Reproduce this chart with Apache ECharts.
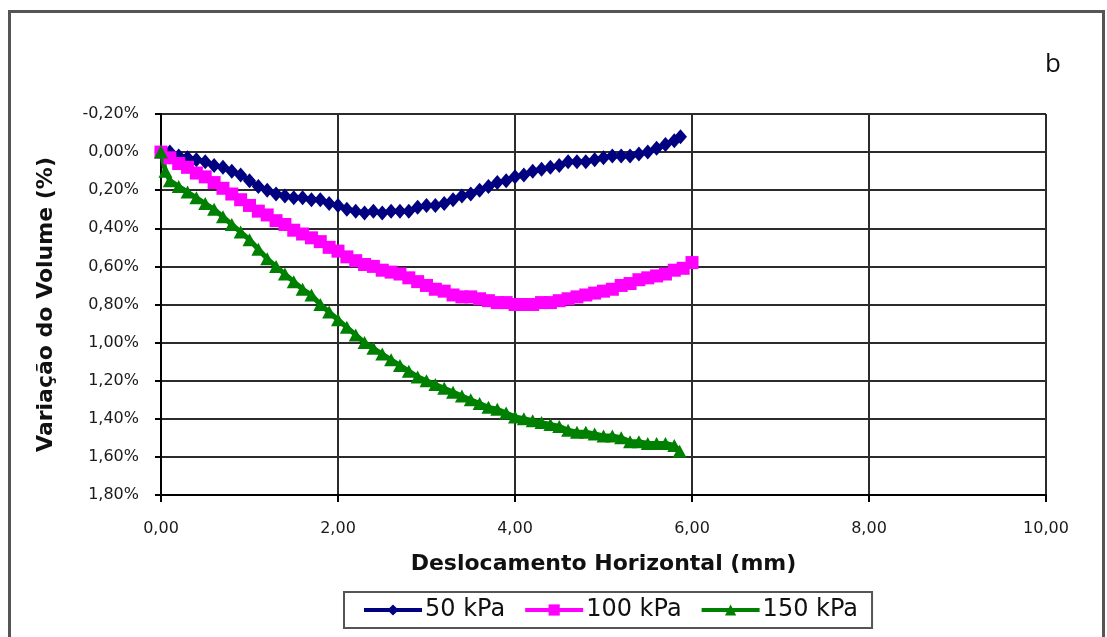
<!DOCTYPE html>
<html>
<head>
<meta charset="utf-8">
<script src="https://cdn.jsdelivr.net/npm/echarts@6/dist/echarts.min.js"></script>
<style>
html,body{margin:0;padding:0;background:#fff;}
#chart{width:1107px;height:637px;}
</style>
</head>
<body>
<div id="chart"></div>
<script>
// ---- Data (horizontal displacement in mm, volume change in %) ----
const x50 = [0.0,0.1,0.2,0.3,0.4,0.5,0.6,0.7,0.8,0.9,1.0,1.1,1.2,1.3,1.4,1.5,1.6,1.7,1.8,1.9,2.0,2.1,2.2,2.3,2.4,2.5,2.6,2.7,2.8,2.9,3.0,3.1,3.2,3.3,3.4,3.5,3.6,3.7,3.8,3.9,4.0,4.1,4.2,4.3,4.4,4.5,4.6,4.7,4.8,4.9,5.0,5.1,5.2,5.3,5.4,5.5,5.6,5.7,5.8,5.87];
const y50 = [0.00,0.00,0.02,0.03,0.04,0.05,0.07,0.08,0.10,0.12,0.15,0.18,0.20,0.22,0.23,0.24,0.24,0.25,0.25,0.27,0.28,0.30,0.31,0.32,0.31,0.32,0.31,0.31,0.31,0.29,0.28,0.28,0.27,0.25,0.23,0.22,0.20,0.18,0.16,0.15,0.13,0.12,0.10,0.09,0.08,0.07,0.05,0.05,0.05,0.04,0.03,0.02,0.02,0.02,0.01,0.00,-0.02,-0.04,-0.06,-0.08];

const x100 = [0.0,0.1,0.2,0.3,0.4,0.5,0.6,0.7,0.8,0.9,1.0,1.1,1.2,1.3,1.4,1.5,1.6,1.7,1.8,1.9,2.0,2.1,2.2,2.3,2.4,2.5,2.6,2.7,2.8,2.9,3.0,3.1,3.2,3.3,3.4,3.5,3.6,3.7,3.8,3.9,4.0,4.1,4.2,4.3,4.4,4.5,4.6,4.7,4.8,4.9,5.0,5.1,5.2,5.3,5.4,5.5,5.6,5.7,5.8,5.9,6.0];
const y100 = [0.00,0.03,0.06,0.08,0.11,0.13,0.16,0.19,0.22,0.25,0.28,0.31,0.33,0.36,0.38,0.41,0.43,0.45,0.47,0.50,0.52,0.55,0.57,0.59,0.60,0.62,0.63,0.64,0.66,0.68,0.70,0.72,0.73,0.75,0.76,0.76,0.77,0.78,0.79,0.79,0.80,0.80,0.80,0.79,0.79,0.78,0.77,0.76,0.75,0.74,0.73,0.72,0.70,0.69,0.67,0.66,0.65,0.64,0.62,0.61,0.58];

const x150 = [0.0,0.05,0.1,0.2,0.3,0.4,0.5,0.6,0.7,0.8,0.9,1.0,1.1,1.2,1.3,1.4,1.5,1.6,1.7,1.8,1.9,2.0,2.1,2.2,2.3,2.4,2.5,2.6,2.7,2.8,2.9,3.0,3.1,3.2,3.3,3.4,3.5,3.6,3.7,3.8,3.9,4.0,4.1,4.2,4.3,4.4,4.5,4.6,4.7,4.8,4.9,5.0,5.1,5.2,5.3,5.4,5.5,5.6,5.7,5.8,5.86];
const y150 = [0.00,0.10,0.15,0.18,0.21,0.24,0.27,0.30,0.34,0.38,0.42,0.46,0.51,0.56,0.60,0.64,0.68,0.72,0.75,0.80,0.84,0.88,0.92,0.96,1.00,1.03,1.06,1.09,1.12,1.15,1.18,1.20,1.22,1.24,1.26,1.28,1.30,1.32,1.34,1.35,1.37,1.39,1.40,1.41,1.42,1.43,1.44,1.46,1.47,1.47,1.48,1.49,1.49,1.50,1.52,1.52,1.53,1.53,1.53,1.54,1.57];

const seriesNames = ['50 kPa', '100 kPa', '150 kPa'];
const xTitle = 'Deslocamento Horizontal (mm)';
const yTitle = 'Variação do Volume (%)';
const panelLabel = 'b';

function pairs(xs, ys) { return xs.map((x, i) => [x, ys[i]]); }

const chart = echarts.init(document.getElementById('chart'), null, { renderer: 'canvas' });

const tickFont = { fontFamily: 'DejaVu Sans', fontSize: 16, color: '#1a1a1a' };
const gridLine = { show: true, lineStyle: { color: '#2b2b2b', width: 2 } };

chart.setOption({
  animation: false,
  backgroundColor: '#ffffff',
  grid: { left: 161, right: 61, top: 114, bottom: 142, containLabel: false },
  xAxis: {
    type: 'value', min: 0, max: 10, interval: 2,
    name: xTitle, nameLocation: 'middle', nameGap: 58,
    nameTextStyle: { fontFamily: 'DejaVu Sans', fontWeight: 'bold', fontSize: 22, color: '#111' },
    axisLine: { show: true, onZero: false, lineStyle: { color: '#000', width: 2 } },
    axisTick: { show: true, length: 7, lineStyle: { color: '#000', width: 2 } },
    axisLabel: Object.assign({ margin: 26, formatter: v => v.toFixed(2).replace('.', ',') }, tickFont),
    splitLine: gridLine
  },
  yAxis: {
    type: 'value', inverse: true, min: -0.2, max: 1.8, interval: 0.2,
    name: yTitle, nameLocation: 'middle', nameGap: 104, nameRotate: 90,
    nameTextStyle: { fontFamily: 'DejaVu Sans', fontWeight: 'bold', fontSize: 22, color: '#111' },
    axisLine: { show: true, onZero: false, lineStyle: { color: '#000', width: 2 } },
    axisTick: { show: true, length: 6, lineStyle: { color: '#000', width: 2 } },
    axisLabel: Object.assign({ margin: 22, formatter: v => {
      const r = Math.abs(v) < 1e-9 ? 0 : v;
      return r.toFixed(2).replace('.', ',') + '%';
    } }, tickFont),
    splitLine: gridLine
  },
  legend: {
    left: 344, top: 592,
    padding: [6, 14, 6, 18],
    itemGap: 18,
    itemWidth: 58, itemHeight: 14,
    borderColor: '#555', borderWidth: 2,
    lineStyle: { width: 4 },
    textStyle: { fontFamily: 'DejaVu Sans', fontSize: 24, color: '#111', padding: [0, 0, 0, -2] },
    data: seriesNames
  },
  graphic: [
    { type: 'rect', left: 7, top: 9, silent: true,
      shape: { width: 1094, height: 650 },
      style: { fill: 'none', stroke: '#555', lineWidth: 3 } },
    { type: 'text', left: 1045, top: 52,
      style: { text: panelLabel, font: '26px "Open Sans", sans-serif', fill: '#111' } }
  ],
  series: [
    { name: seriesNames[0], type: 'line', data: pairs(x50, y50),
      symbol: 'diamond', symbolSize: [13, 15], showAllSymbol: true,
      lineStyle: { color: '#000080', width: 5 }, itemStyle: { color: '#000080' } },
    { name: seriesNames[1], type: 'line', data: pairs(x100, y100),
      symbol: 'rect', symbolSize: 13, showAllSymbol: true,
      lineStyle: { color: '#FF00FF', width: 6 }, itemStyle: { color: '#FF00FF' } },
    { name: seriesNames[2], type: 'line', data: pairs(x150, y150),
      symbol: 'triangle', symbolSize: [14, 13], showAllSymbol: true,
      lineStyle: { color: '#008000', width: 5 }, itemStyle: { color: '#008000' } }
  ]
});
</script>
</body>
</html>
